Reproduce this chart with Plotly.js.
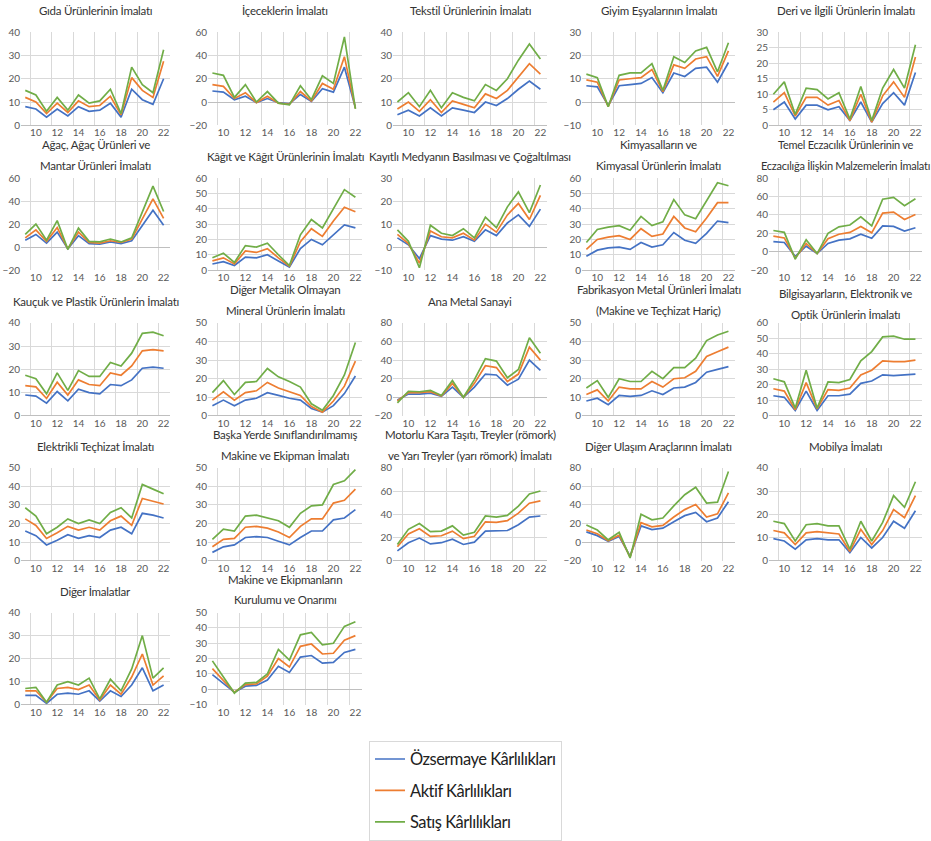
<!DOCTYPE html>
<html><head><meta charset="utf-8">
<script src="https://cdn.plot.ly/plotly-3.0.1.min.js"></script>
<style>
body{margin:0;background:#fff}
.annotation-text{letter-spacing:-0.25px}
.legendtext{letter-spacing:-0.5px}
</style>
</head><body><div id="chart" style="width:931px;height:841px"></div>
<script>
// ---- DATA ----
const years = [9,10,11,12,13,14,15,16,17,18,19,20,21,22];
const xTickVals = [10,12,14,16,18,20,22];
const seriesNames = ['Özsermaye Kârlılıkları','Aktif Kârlılıkları','Satış Kârlılıkları'];
const titles = [
  ['Gıda Ürünlerinin İmalatı'],
  ['İçeceklerin İmalatı'],
  ['Tekstil Ürünlerinin İmalatı'],
  ['Giyim Eşyalarının İmalatı'],
  ['Deri ve İlgili Ürünlerin İmalatı'],
  ['Ağaç, Ağaç Ürünleri ve','Mantar Ürünleri İmalatı'],
  ['Kâğıt ve Kâğıt Ürünlerinin İmalatı'],
  ['Kayıtlı Medyanın Basılması ve Çoğaltılması'],
  ['Kimyasalların ve','Kimyasal Ürünlerin İmalatı'],
  ['Temel Eczacılık Ürünlerinin ve','Eczacılığa İlişkin Malzemelerin İmalatı'],
  ['Kauçuk ve Plastik Ürünlerin İmalatı'],
  ['Diğer Metalik Olmayan','Mineral Ürünlerin İmalatı'],
  ['Ana Metal Sanayi'],
  ['Fabrikasyon Metal Ürünleri İmalatı','(Makine ve Teçhizat Hariç)'],
  ['Bilgisayarların, Elektronik ve','Optik Ürünlerin İmalatı'],
  ['Elektrikli Teçhizat İmalatı'],
  ['Başka Yerde Sınıflandırılmamış','Makine ve Ekipman İmalatı'],
  ['Motorlu Kara Taşıtı, Treyler (römork)','ve Yarı Treyler (yarı römork) İmalatı'],
  ['Diğer Ulaşım Araçlarınn İmalatı'],
  ['Mobilya İmalatı'],
  ['Diğer İmalatlar'],
  ['Makine ve Ekipmanların','Kurulumu ve Onarımı']
];
const yRanges = [[0,40],[-20,60],[0,40],[-10,30],[0,30],
  [-20,60],[0,60],[-10,30],[0,60],[-20,80],
  [0,40],[0,50],[-20,80],[0,50],[0,60],
  [0,50],[0,50],[0,80],[-20,80],[0,40],
  [0,40],[-10,50]];
const yDticks = [10,20,10,10,5, 20,10,10,10,20, 10,10,20,10,10, 10,10,20,20,10, 10,10];

// Özsermaye Kârlılıkları (blue)
const ozsermaye = [
  [8,7,3.5,7,4,8,6,6.5,9.5,3.5,15.5,11,9,20],
  [9.5,8.5,2,5,-0.5,3,-0.5,-1.5,6.5,0.5,11.5,8.5,30,-5],
  [4.5,6.5,4,7.5,4,7.5,6.5,5.5,10,8.5,11.5,15.5,19,15.5],
  [7,6.5,-1.5,7,7.5,8,10.5,4,12.5,11,14.5,15,8.5,17],
  [5,7.5,2,6.5,6.5,5,6,1.5,7.5,1,7,10.5,6.5,17],
  [6,11,3.5,13,-1.5,10,3,2.5,4.5,3,5.5,19,32,19],
  [4,5.5,3,8.5,8,10,6,2,14,20,16.5,23,29.5,27.5],
  [4,1,-5,5,3.5,3,4.5,2.5,7.5,5,10.5,14,9,16.5],
  [9,13,14.5,15,13.5,18,15,16.5,24.5,19.5,17.5,24,32,31],
  [11,10,-5,6,-2,9,12.5,14,19,14.5,28,27.5,22.5,26],
  [9,8.5,5.5,10.5,6.5,11.5,10,9.5,13.5,13,15.5,20.5,21,20.5],
  [5.5,8.5,5.5,8.5,9.5,12.5,11,9.5,8.5,4,2,5.5,12,21.5],
  [-3,3.5,3.5,4.5,1,11,0,11,25,24,13,19.5,40,29],
  [8,9.5,6,11,10.5,11,13.5,11.5,15,15.5,18,23.5,25,26.5],
  [13,12,3.5,16,3.5,13,13,14,21,22.5,26.5,26,26.5,27],
  [16,13.5,8.5,11,14,12,13.5,12.5,16.5,18,14.5,25.5,24.5,23],
  [4.5,7.5,8.5,12.5,13,12.5,10.5,8.5,12.5,16,16,22,23,27.5],
  [8.5,15.5,19.5,14.5,15.5,18.5,14,16,25.5,25.5,26,31,37.5,38.5],
  [11,7,1,6,-15,17.5,13.5,15,22,28.5,32,22,26,43.5],
  [9.5,8.5,5,9,9.5,9,9,3.5,10,5.5,10,17,14,21.5],
  [4,4,0.5,4.5,5,4.5,6,1.5,6,3.5,8.5,16,6,8.5],
  [9.5,4,-2,2,2.5,6,15,11,21,22,17,17.5,24,26]
];
// Aktif Kârlılıkları (orange)
const aktif = [
  [12,10,5,9.5,5.5,10.5,8,8.5,12.5,4.5,20.5,15,12,27.5],
  [15,13.5,3,8,-0.5,5,-1,-2,9,1,16,11,39,-5.5],
  [7,10,6,11,5.5,10.5,9,7.5,13.5,11.5,15,21,26.5,22],
  [9.5,8.5,-2,9.5,10,10.5,14,4.5,16,14.5,18.5,19.5,11,22],
  [7.5,10.5,3,9,9,6.5,8,1.5,10,1,9.5,14,9,22],
  [8,15,5,17,-1.5,13,4,3.5,5.5,4,7,24,42,25],
  [6,8,4,12.5,11.5,14,8,2.5,18.5,27,22,32,41,38],
  [5.5,1.5,-7,7,4.5,4,6,3,10,6.5,14,19,12,22.5],
  [13.5,20,21.5,22.5,20,27,22,23.5,35,27.5,25,34,44,44],
  [17,15,-7,9,-2,14,19,21,27.5,20.5,42,43,35,40.5],
  [13,12.5,7.5,14.5,9,15.5,13.5,13,18.5,17.5,21.5,28,28.5,28],
  [8.5,13,8.5,12.5,13.5,18,15,13,11,5,2,8,16,29.5],
  [-4,5,5,6,1.5,15,0,15,34,32,17,25,54,40],
  [11.5,14,8,15.5,14.5,14.5,18.5,15.5,20,20.5,24,32,34.5,37],
  [17.5,16,4,21.5,4.5,17,16.5,18,26.5,29.5,35.5,35,35,36],
  [22.5,19,12,15,18.5,16.5,18,16.5,21.5,24,19,33.5,32,30.5],
  [7.5,11.5,12,18,18.5,17.5,15.5,12.5,18.5,22.5,22.5,31,32.5,38.5],
  [12,23,27.5,21,21.5,25.5,19,21,33.5,33,34.5,41,49.5,51.5],
  [13,9,1.5,7.5,-16,21,16.5,18,27,35,40.5,27,30.5,53],
  [13,12,7,12,12.5,12,11.5,4,13.5,7,13,22,18.5,28],
  [6,6,1,7,7.5,6.5,8.5,2,8.5,4.5,12,22,8.5,12.5],
  [13.5,5.5,-2,3,3.5,8.5,20,14.5,28,29.5,23,23.5,32,35]
];
// Satış Kârlılıkları (green)
const satis = [
  [15,13,6,12,6.5,13,9.5,10.5,15.5,5,25,17.5,14,32.5],
  [25,23,4,15,0,9,-1,-2.5,14,2,22.5,16,56,-6],
  [10,14,8,15,7.5,14,12,10.5,17.5,15,20,28,35,28.5],
  [12,10.5,-2,11.5,12.5,12.5,16.5,5,19.5,17,22,23.5,13,25.5],
  [10,14,3.5,12,11.5,8.5,10.5,2,12.5,1.5,12,18,12,26],
  [11,20,6,23,-2,16.5,5,4.5,7,4.5,8,30,53,31],
  [8,11,5,16,15,17.5,10,3,23,33,27.5,40,52.5,47.5],
  [7.5,2.5,-9,9.5,6,5,8,4,13,8.5,17.5,24,15,27],
  [18,26.5,28,29,26,35,29,31.5,46,36,33.5,45,57,55],
  [23,21,-8,13,-2,20,27,29,38,28,57,59,50,57.5],
  [17.5,16,9.5,18.5,11,19.5,17,17,23,21.5,27,35.5,36,34.5],
  [12.5,19,11.5,18,18.5,25.5,21,18.5,15.5,6.5,3,11,22,39.5],
  [-6,6.5,6,7.5,2,18,0,19,41.5,39,21,30,64,47.5],
  [15,19,10,20,18.5,18.5,24,20,26,26,31,40.5,43.5,45.5],
  [24,22,5,29.5,5,22,21.5,23.5,35.5,41.5,51,51.5,49.5,49.5],
  [28.5,24,14.5,18,22.5,20,22,20,26,28.5,23,41,38.5,36],
  [11.5,17,16,24,24.5,23,21.5,18,25.5,29.5,30,41,43,49],
  [14,27,32,25,25.5,30,22,24.5,38.5,37.5,39,47,57.5,60],
  [18.5,13,2.5,10.5,-17,30,24,26,39,51,59,42,43,76],
  [17,16,8.5,15.5,16,15,15,5,17,8.5,16.5,28,23,34],
  [7,7.5,1,8.5,10,8.5,11.5,2.5,11,6,15.5,30,11.5,16],
  [18.5,8,-2.5,4,4.5,10,26,19,35.5,37,29,30,41,44]
];

// ---- LAYOUT ----
const W = 931, H = 841;
const colL = [21, 208, 393, 582, 769];
const colR = [170, 362, 547, 735, 922];
const rowT = [33, 182, 330, 478, 626];
const rowB = [128, 276, 425, 573, 720];
const colors = ['#4472C4', '#ED7D31', '#70AD47'];
const allSeries = [ozsermaye, aktif, satis];
const titleShift = {14: 4};
const titleSize = {9: 11};
const FONT = 'Lato, "Liberation Sans", Arial, sans-serif';

const traces = [];
const layout = {
  width: W, height: H,
  margin: {l: 0, r: 0, t: 0, b: 0},
  paper_bgcolor: '#fff', plot_bgcolor: '#fff',
  font: {family: FONT, color: '#595959'},
  showlegend: true,
  legend: {
    x: 369 / W, y: 1 - 757 / H, xanchor: 'left', yanchor: 'top',
    bgcolor: '#fff', bordercolor: '#D9D9D9', borderwidth: 1,
    font: {size: 16.5, color: '#222', family: FONT},
    tracegroupgap: 7
  },
  annotations: []
};

const minorVals = xTickVals.map(v => v - 0.5);

titles.forEach((t, i) => {
  const r = Math.floor(i / 5), c = i % 5;
  const n = i + 1;
  const xa = 'xaxis' + (n === 1 ? '' : n), ya = 'yaxis' + (n === 1 ? '' : n);
  const xr = 'x' + (n === 1 ? '' : n), yr = 'y' + (n === 1 ? '' : n);
  layout[xa] = {
    domain: [colL[c] / W, colR[c] / W],
    anchor: yr,
    range: [8.6, 22.6],
    tickmode: 'array', tickvals: xTickVals,
    ticks: '', showgrid: false, zeroline: false, showline: false,
    tickfont: {size: 10, color: '#595959'},
    minor: {tickmode: 'array', tickvals: minorVals, showgrid: true, gridcolor: '#D9D9D9', gridwidth: 1, ticks: ''}
  };
  layout[ya] = {
    domain: [1 - rowB[r] / H, 1 - rowT[r] / H],
    anchor: xr,
    range: yRanges[i],
    tickmode: 'linear', tick0: 0, dtick: yDticks[i],
    ticks: '', showgrid: true, gridcolor: '#D9D9D9', gridwidth: 1,
    zeroline: true, zerolinecolor: '#BFBFBF', zerolinewidth: 1,
    showline: false,
    tickfont: {size: 10, color: '#595959'}
  };
  allSeries.forEach((s, k) => {
    traces.push({
      type: 'scatter', mode: 'lines',
      x: years, y: s[i],
      xaxis: xr, yaxis: yr,
      name: seriesNames[k],
      legendgroup: 'g' + k,
      showlegend: i === 0,
      line: {color: colors[k], width: 1.7},
      hoverinfo: 'skip'
    });
  });
  const cx = (colL[c] + colR[c]) / 2 / W;
  const sh = titleShift[i] || 0;
  const lines = t.length === 1 ? [rowT[r] - 22] : [rowT[r] - 34 + sh, rowT[r] - 13 + sh];
  t.forEach((txt, j) => {
    layout.annotations.push({
      text: txt, xref: 'paper', yref: 'paper',
      x: cx, y: 1 - lines[j] / H, xanchor: 'center', yanchor: 'middle',
      showarrow: false, font: {size: titleSize[i] || 11.5, color: '#333', family: FONT}
    });
  });
});

Plotly.newPlot('chart', traces, layout, {displayModeBar: false, staticPlot: true});
</script>
</body></html>
